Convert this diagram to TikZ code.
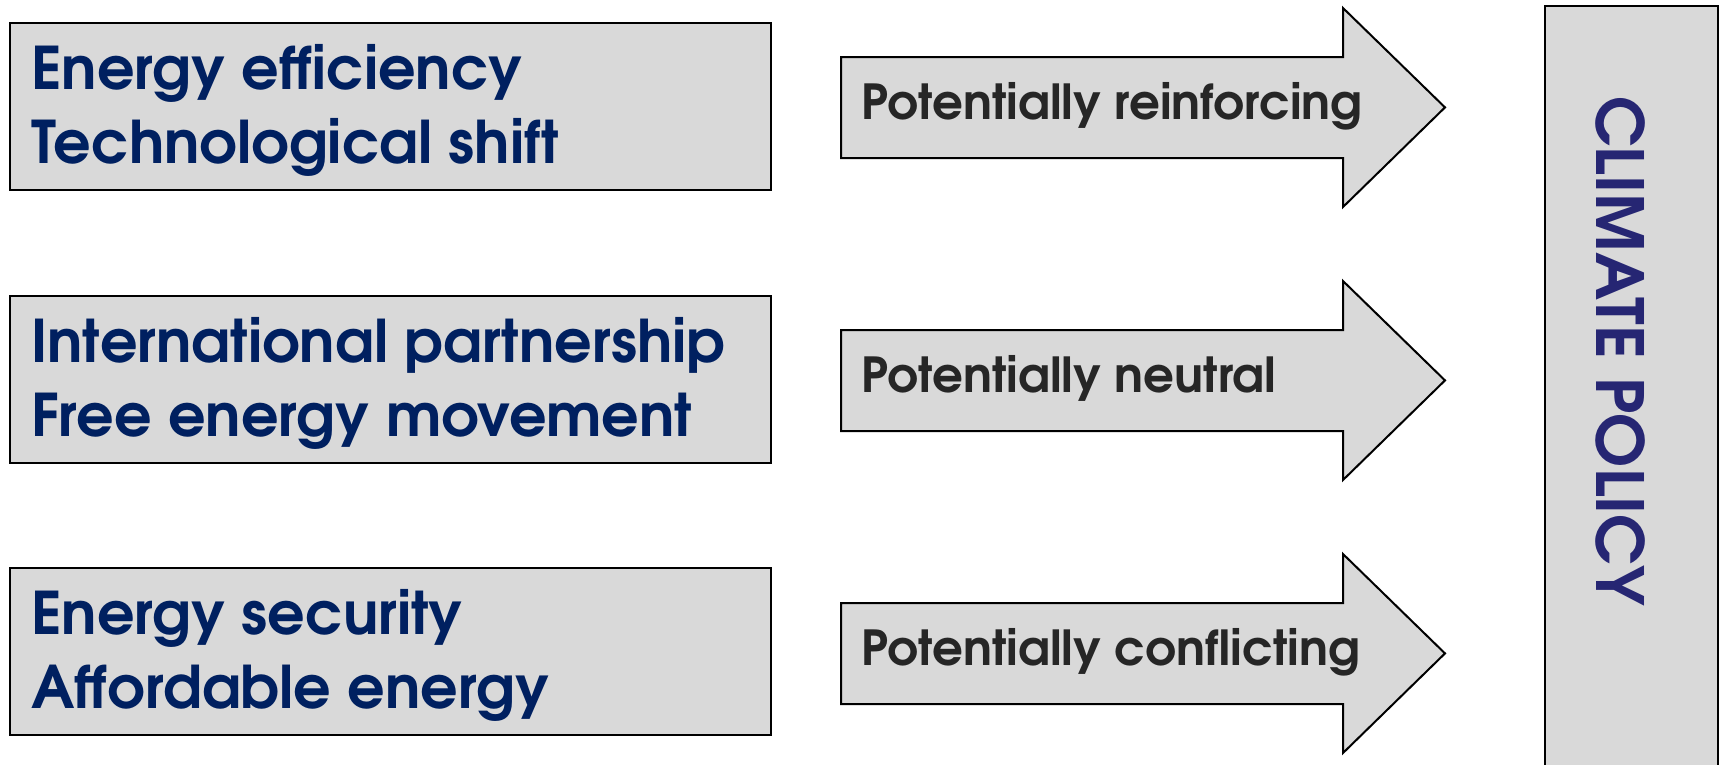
\documentclass[tikz,border=0pt]{standalone}
\usepackage{fontspec}
\setmainfont{TeX Gyre Adventor}
\definecolor{boxfill}{HTML}{D9D9D9}
\definecolor{navy}{HTML}{002060}
\definecolor{cpblue}{HTML}{262673}
\definecolor{dgray}{HTML}{262626}
\begin{document}
\begin{tikzpicture}[x=1pt,y=-1pt,
  boxst/.style={draw=black, line width=2pt, fill=boxfill},
  lefttext/.style={anchor=base west, text=navy, font=\fontsize{58.8}{58.8}\selectfont\bfseries, inner sep=0pt},
  arrtext/.style={anchor=base west, text=dgray, font=\fontsize{48.3}{48.3}\selectfont\bfseries, inner sep=0pt},
  cptext/.style={text=cpblue, font=\fontsize{65}{65}\selectfont\bfseries, inner sep=0pt, rotate=-90}]
\useasboundingbox (0,0) rectangle (1719,764);
% climate policy box
\node[boxst, anchor=north west, minimum width=173pt, minimum height=820pt, inner sep=0pt] (cp) at (1544,5) {};
\node[cptext] (cpt) at (1620,351) {CLIMATE POLICY};
% left boxes
\foreach \i/\dy in {1/0, 2/273, 3/545} {
  \node[boxst, anchor=north west, minimum width=761pt, minimum height=167pt, inner sep=0pt] (b\i) at (9,22+\dy) {};
}
\node[lefttext] (t1a) at (31,89) {Energy efficiency};
\node[lefttext] (t1b) at (31,163) {Technological shift};
\node[lefttext] (t2a) at (31,362) {International partnership};
\node[lefttext] (t2b) at (31,436) {Free energy movement};
\node[lefttext] (t3a) at (31,634) {Energy security};
\node[lefttext] (t3b) at (31,708) {Affordable energy};
% arrows
\foreach \dy in {0, 273, 546} {
  \draw[boxst, shift={(0,\dy)}] (841,57) -- (1343,57) -- (1343,8) -- (1445,107.4) -- (1343,207) -- (1343,158) -- (841,158) -- cycle;
}
\node[arrtext] (a1) at (861,119) {Potentially reinforcing};
\node[arrtext] (a2) at (861,392) {Potentially neutral};
\node[arrtext] (a3) at (861,665) {Potentially conflicting};
\end{tikzpicture}
\end{document}
